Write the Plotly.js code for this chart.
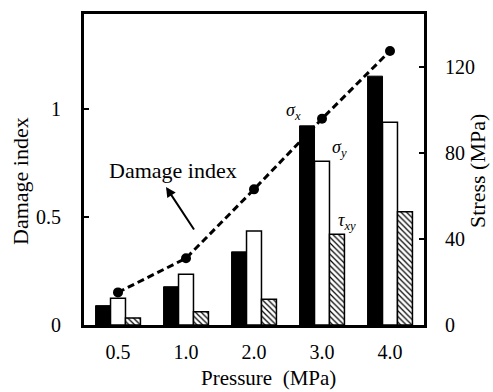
<!DOCTYPE html>
<html>
<head>
<meta charset="utf-8">
<script src="https://cdn.plot.ly/plotly-3.0.1.min.js"></script>
<style>html,body{margin:0;padding:0;background:#fff;}#chart{width:493px;height:392px;}</style>
</head>
<body>
<div id="chart"></div>
<script>
const categories = ['0.5', '1.0', '2.0', '3.0', '4.0'];
const damageIndex = [0.151, 0.309, 0.628, 0.955, 1.269];
const sigmaX = [9.0, 17.8, 34.0, 92.6, 115.7];
const sigmaY = [12.4, 23.6, 43.7, 76.1, 94.3];
const tauXY = [3.3, 6.2, 12.0, 42.2, 52.7];
const stressTicks = [0, 40, 80, 120];
const damageTicks = [0, 0.5, 1];
const damageTickText = ['0', '0.5', '1'];

const FONT = 'Liberation Serif';

const traces = [
  {type: 'bar', x: categories, y: sigmaX, yaxis: 'y', name: 'σx',
   marker: {color: '#000', line: {color: '#000', width: 1}}},
  {type: 'bar', x: categories, y: sigmaY, yaxis: 'y', name: 'σy',
   marker: {color: '#fff', line: {color: '#000', width: 1.5}}},
  {type: 'bar', x: categories, y: tauXY, yaxis: 'y', name: 'τxy',
   marker: {color: '#fff', line: {color: '#000', width: 1.5},
            pattern: {shape: '\\', fgcolor: '#000', bgcolor: '#fff', size: 4, solidity: 0.3}}},
  {type: 'scatter', mode: 'lines+markers', x: categories, y: damageIndex, yaxis: 'y2', name: 'Damage index',
   line: {color: '#000', width: 3, dash: '7px,4px'},
   marker: {color: '#000', size: 10}}
];

const px = (v) => (v - 84) / 340;
const py = (v) => (325 - v) / 311;

const layout = {
  width: 493, height: 392,
  margin: {l: 84, r: 69, t: 14, b: 67},
  paper_bgcolor: '#fff', plot_bgcolor: '#fff',
  showlegend: false,
  font: {family: FONT, size: 20, color: '#000'},
  barmode: 'group', bargap: 0.34, bargroupgap: 0,
  xaxis: {
    type: 'category', showline: true, linewidth: 3, linecolor: '#000', mirror: true,
    ticks: '', showgrid: false, zeroline: false,
    tickfont: {family: FONT, size: 20, color: '#000'}, ticklabelstandoff: 7
  },
  yaxis: {
    side: 'right', range: [0, 144.6], tickvals: stressTicks,
    ticks: 'inside', ticklen: 5, tickwidth: 1.5, tickcolor: '#000',
    showline: true, linewidth: 3, linecolor: '#000',
    showgrid: false, zeroline: false,
    tickfont: {family: FONT, size: 20, color: '#000'}, ticklabelstandoff: 14
  },
  yaxis2: {
    overlaying: 'y', side: 'left', range: [0, 1.44], tickvals: damageTicks, ticktext: damageTickText,
    ticks: 'inside', ticklen: 5, tickwidth: 1.5, tickcolor: '#000',
    showline: true, linewidth: 3, linecolor: '#000',
    showgrid: false, zeroline: false,
    tickfont: {family: FONT, size: 20, color: '#000'}, ticklabelstandoff: 16
  },
  annotations: [
    {xref: 'paper', yref: 'paper', x: px(268), y: py(391), text: 'Pressure\u00a0\u00a0(MPa)',
     showarrow: false, font: {family: FONT, size: 21, color: '#000'}, xanchor: 'center', yanchor: 'bottom', borderpad: 0},
    {xref: 'paper', yref: 'paper', x: px(20), y: py(181), text: 'Damage index', textangle: -90,
     showarrow: false, font: {family: FONT, size: 22, color: '#000'}, xanchor: 'center', yanchor: 'middle'},
    {xref: 'paper', yref: 'paper', x: px(477), y: py(171), text: 'Stress (MPa)', textangle: -90,
     showarrow: false, font: {family: FONT, size: 22, color: '#000'}, xanchor: 'center', yanchor: 'middle'},
    {xref: 'paper', yref: 'paper', x: px(172.5), y: py(170), text: 'Damage index',
     showarrow: false, font: {family: FONT, size: 22, color: '#000'}, xanchor: 'center', yanchor: 'middle'},
    {xref: 'paper', yref: 'paper', x: px(166), y: py(187), text: '',
     showarrow: true, axref: 'pixel', ayref: 'pixel', ax: 29, ay: 44,
     arrowhead: 2, arrowsize: 1, arrowwidth: 2, arrowcolor: '#000', standoff: 0},
    {xref: 'paper', yref: 'paper', x: px(284), y: py(111), text: '<i>σ<sub>x</sub></i>',
     showarrow: false, font: {family: FONT, size: 18, color: '#000'}, xanchor: 'left', yanchor: 'middle'},
    {xref: 'paper', yref: 'paper', x: px(330), y: py(148), text: '<i>σ<sub>y</sub></i>',
     showarrow: false, font: {family: FONT, size: 18, color: '#000'}, xanchor: 'left', yanchor: 'middle'},
    {xref: 'paper', yref: 'paper', x: px(336), y: py(221), text: '<i>τ<sub>xy</sub></i>',
     showarrow: false, font: {family: FONT, size: 18, color: '#000'}, xanchor: 'left', yanchor: 'middle'}
  ]
};

Plotly.newPlot('chart', traces, layout, {displayModeBar: false, staticPlot: true});
</script>
</body>
</html>
